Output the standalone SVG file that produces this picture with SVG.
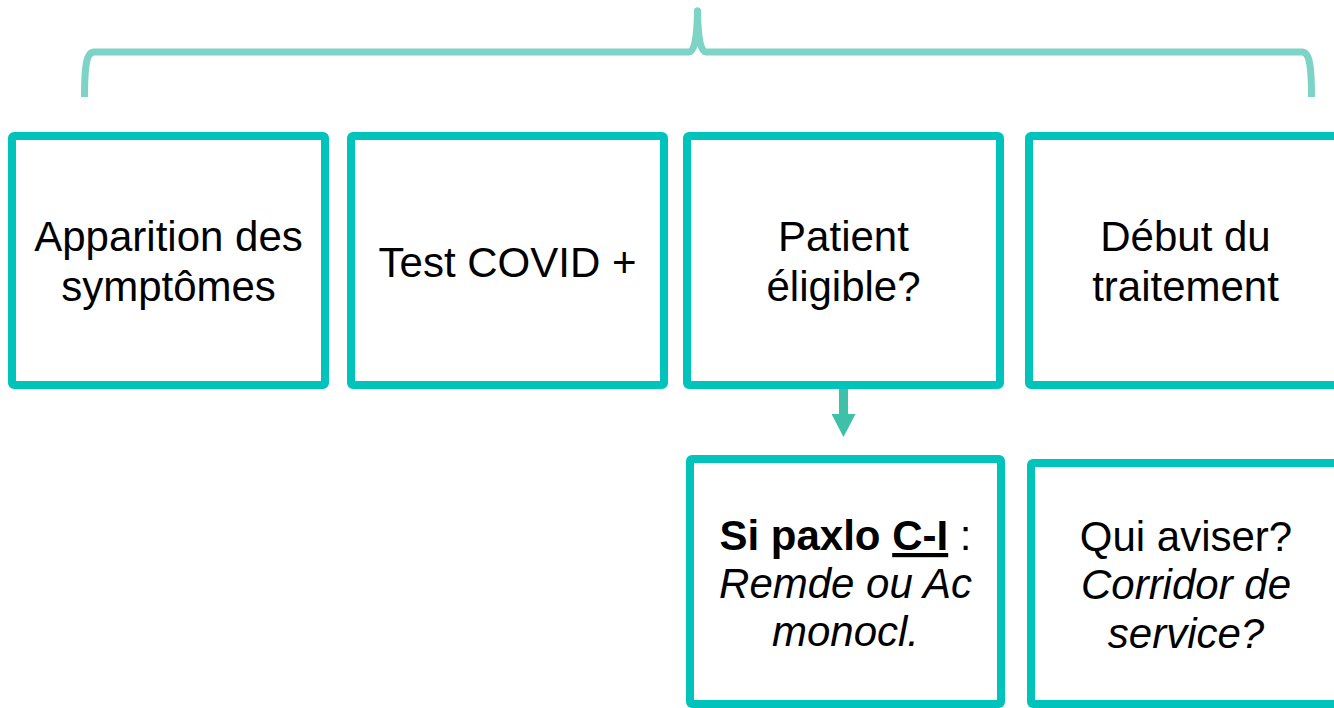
<svg xmlns="http://www.w3.org/2000/svg" width="1334" height="708" viewBox="0 0 1334 708">
  <style>
    .box { fill: #ffffff; stroke: #00c4bb; stroke-width: 8; stroke-linejoin: round; }
    .lbl { font-family: "Liberation Sans", Arial, sans-serif; font-size: 42px; fill: #000000; text-anchor: middle; }
    .it { font-style: italic; }
    .b { font-weight: bold; }
    .brace { fill: none; stroke: #7dd3c5; stroke-width: 7; stroke-linecap: round; stroke-linejoin: round; }
  </style>
  <defs>
    <marker id="head" markerUnits="userSpaceOnUse" markerWidth="24" markerHeight="24" refX="0" refY="12" orient="auto">
      <path d="M0,0 L23,12 L0,24 Z" fill="#3fc0a8"/>
    </marker>
  </defs>
  <rect width="1334" height="708" fill="#ffffff"/>

  <!-- connectors: grouping brace over the steps, arrow to the sub-step -->
  <g id="connectors">
    <path class="brace" d="M84.5,97 C84.5,68 86,52 94,52 L689,52 C694,52 697,40 697.5,11 C698,40 701,52 706,52 L1302,52 C1310,52 1311.5,68 1311.5,97" style="stroke-linecap:butt"/>
    <path class="brace" d="M697.5,11 L697.5,12"/>
    <line x1="843.5" y1="385" x2="843.5" y2="414" stroke="#3fc0a8" stroke-width="9" marker-end="url(#head)"/>
  </g>

  <g id="step-symptomes">
    <rect class="box" x="12" y="136" width="313" height="249" rx="2"/>
    <text class="lbl" x="168.5" y="251">Apparition des</text>
    <text class="lbl" x="168.5" y="301">symptômes</text>
  </g>

  <g id="step-test">
    <rect class="box" x="351" y="136" width="313" height="249" rx="2"/>
    <text class="lbl" x="507.5" y="277">Test COVID +</text>
  </g>

  <g id="step-eligible">
    <rect class="box" x="687" y="136" width="313" height="249" rx="2"/>
    <text class="lbl" x="843.5" y="251">Patient</text>
    <text class="lbl" x="843.5" y="301">éligible?</text>
  </g>

  <g id="step-traitement">
    <rect class="box" x="1029" y="136" width="313" height="249" rx="2"/>
    <text class="lbl" x="1185.5" y="251">Début du</text>
    <text class="lbl" x="1185.5" y="301">traitement</text>
  </g>

  <g id="step-paxlo">
    <rect class="box" x="690" y="459" width="311" height="245" rx="2"/>
    <text class="lbl" x="845.5" y="550"><tspan class="b">Si paxlo </tspan><tspan class="b" text-decoration="underline">C-I</tspan><tspan> :</tspan></text>
    <text class="lbl it" x="845.5" y="598">Remde ou Ac</text>
    <text class="lbl it" x="845.5" y="646">monocl.</text>
  </g>

  <g id="step-aviser">
    <rect class="box" x="1031" y="463" width="313" height="241" rx="2"/>
    <text class="lbl" x="1186" y="551">Qui aviser?</text>
    <text class="lbl it" x="1186" y="599">Corridor de</text>
    <text class="lbl it" x="1186" y="648">service?</text>
  </g>
</svg>
